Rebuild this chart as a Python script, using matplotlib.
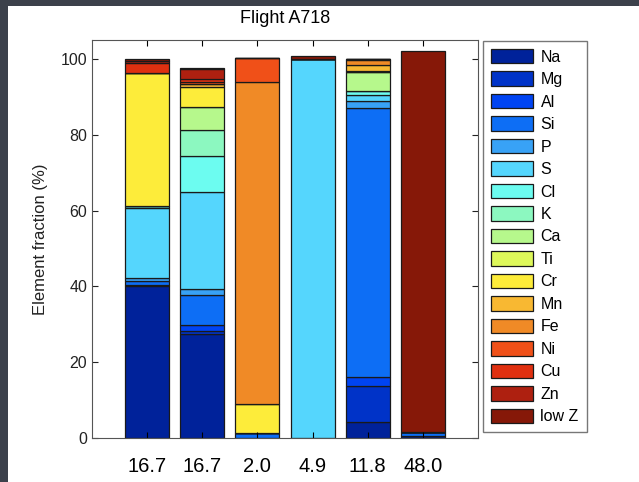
import numpy as np
import matplotlib
matplotlib.use('Agg')
import matplotlib.pyplot as plt
from matplotlib.patches import Rectangle

# data
tick_labels = ['16.7', '16.7', '2.0', '4.9', '11.8', '48.0']
elements = ['Na', 'Mg', 'Al', 'Si', 'P', 'S', 'Cl', 'K', 'Ca', 'Ti',
            'Cr', 'Mn', 'Fe', 'Ni', 'Cu', 'Zn', 'low Z']
colors = ['#00229a', '#0033c8', '#0044f2', '#0d6ef5', '#38a2f6', '#55d6fd',
          '#6cfcf0', '#8cf8c0', '#b6f88c', '#def85a', '#fdec3a', '#f8b832',
          '#f08a26', '#f05018', '#e03010', '#ae2010', '#861808']

# fraction (%) per element for each bar
Na = [40.0, 27.5, 0.0, 0.0, 4.1, 0.5]
Mg = [0.3, 0.7, 0.0, 0.0, 9.6, 0.0]
Al = [0.0, 1.5, 0.0, 0.0, 2.3, 0.0]
Si = [1.2, 8.0, 1.2, 0.0, 71.0, 1.0]
P = [0.8, 1.6, 0.0, 0.0, 1.8, 0.0]
S = [18.4, 25.5, 0.0, 100.0, 1.8, 0.0]
Cl = [0.5, 9.7, 0.0, 0.0, 0.9, 0.0]
K = [0.0, 6.8, 0.0, 0.0, 0.0, 0.0]
Ca = [0.0, 5.9, 0.0, 0.0, 5.0, 0.0]
Ti = [0.0, 0.0, 0.0, 0.0, 0.0, 0.0]
Cr = [35.1, 5.4, 7.7, 0.0, 0.3, 0.0]
Mn = [0.0, 0.9, 0.0, 0.0, 1.6, 0.0]
Fe = [0.0, 0.0, 85.1, 0.0, 1.3, 0.0]
Ni = [0.0, 0.3, 6.2, 0.0, 0.3, 0.0]
Cu = [2.7, 0.8, 0.0, 0.0, 0.0, 0.0]
Zn = [0.5, 2.7, 0.0, 0.0, 0.0, 0.2]
lowZ = [0.4, 0.4, 0.0, 0.9, 0.0, 100.3]

fractions = [Na, Mg, Al, Si, P, S, Cl, K, Ca, Ti, Cr, Mn, Fe, Ni, Cu, Zn, lowZ]

plt.rcParams['font.family'] = ['Liberation Sans', 'DejaVu Sans']

W, H = 639, 482
fig = plt.figure(figsize=(W / 100, H / 100), dpi=100)
fig.patch.set_facecolor('#3c414b')
# white panel inside the dark frame
fig.patches.append(Rectangle((8 / W, 0), 1, (H - 6) / H, transform=fig.transFigure,
                             facecolor='white', edgecolor='none', zorder=-10))

ax = fig.add_axes([92 / W, (H - 438) / H, (478 - 92) / W, (438 - 40) / H])
x = np.arange(1, len(tick_labels) + 1)
bottom = np.zeros(len(x))
handles = []
for name, vals, c in zip(elements, fractions, colors):
    vals = np.array(vals)
    b = ax.bar(x, vals, 0.8, bottom=bottom, color=c, edgecolor='#1a1a1a',
               linewidth=0.9, label=name)
    handles.append(b)
    bottom += vals

ax.set_xlim(0, 7)
ax.set_ylim(0, 105)
ax.set_xticks(x)
ax.set_xticklabels(tick_labels, fontsize=14.5)
ax.set_yticks([0, 20, 40, 60, 80, 100])
ax.tick_params(axis='y', labelsize=11.5, colors='#222222')
ax.tick_params(direction='in', top=True, right=True, length=4, width=0.8)
ax.tick_params(axis='x', pad=14)
ax.set_ylabel('Element fraction (%)', fontsize=12, color='#222222', labelpad=9)
ax.set_title('Flight A718', fontsize=13, pad=12)
for s in ax.spines.values():
    s.set_color('#555555')

leg = fig.legend(handles=handles, labels=elements,
                 loc='upper left', bbox_to_anchor=(483 / W, 1 - 41 / H),
                 fontsize=11.5, frameon=True, fancybox=False, edgecolor='#555555',
                 handlelength=2.6, handleheight=1.0, labelspacing=0.43,
                 borderpad=0.5, handletextpad=0.5, borderaxespad=0)
leg.get_frame().set_linewidth(1.0)

fig.savefig('out.png', dpi=100, facecolor=fig.get_facecolor())
